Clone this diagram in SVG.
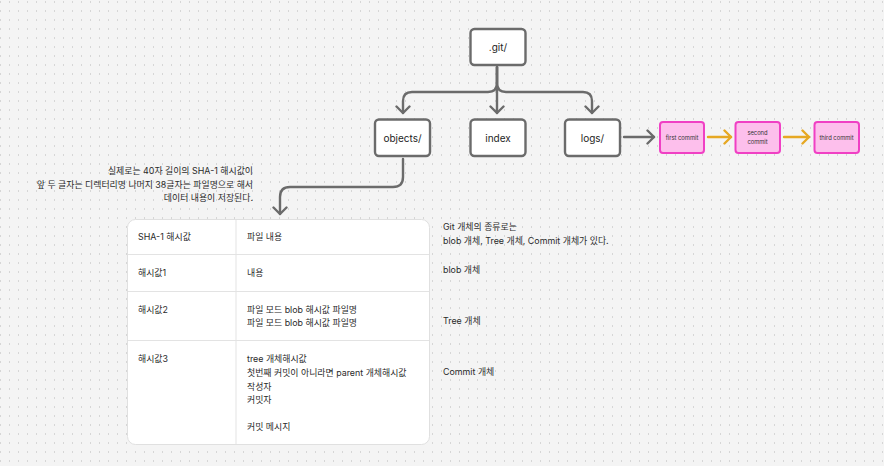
<svg xmlns="http://www.w3.org/2000/svg" width="884" height="466" viewBox="0 0 884 466">
<defs>
<pattern id="dots" x="0" y="1.5" width="9" height="9" patternUnits="userSpaceOnUse">
<rect x="0" y="0" width="1" height="1" fill="#b8b8b8"/>
</pattern>
<marker id="ah" viewBox="-8 -8 10 16" markerWidth="10" markerHeight="16" refX="0" refY="0" orient="auto" markerUnits="userSpaceOnUse">
<path d="M-6.5,-6.5 L0,0 L-6.5,6.5" fill="none" stroke="#6b6b6b" stroke-width="2.4" stroke-linecap="round" stroke-linejoin="round"/>
</marker>
<marker id="ahy" viewBox="-8 -8 10 16" markerWidth="10" markerHeight="16" refX="0" refY="0" orient="auto" markerUnits="userSpaceOnUse">
<path d="M-6.5,-6.5 L0,0 L-6.5,6.5" fill="none" stroke="#e6a823" stroke-width="2.4" stroke-linecap="round" stroke-linejoin="round"/>
</marker>
</defs>
<style>
.box{fill:#fff;stroke:#6b6b6b;stroke-width:2.4}
.cbox{fill:#fdbfec;stroke:#f040c4;stroke-width:2}
.lbl{font-family:Inter,"Noto Sans CJK KR",sans-serif;font-size:10px;fill:#1e1e1e;text-anchor:middle}
.clbl{font-family:Inter,"Noto Sans CJK KR",sans-serif;font-size:5.8px;fill:#333;text-anchor:middle}
.t{font-family:Inter,"Noto Sans CJK KR",sans-serif;font-size:8.9px;fill:#2a2a2a}
.c{fill:none;stroke:#6b6b6b;stroke-width:2.4;stroke-linecap:round;stroke-linejoin:round}
.cy{fill:none;stroke:#e6a823;stroke-width:2.4;stroke-linecap:round}
.grid{stroke:#e3e3e3;stroke-width:1;fill:none}
</style>
<rect width="884" height="466" fill="#f4f4f4"/>
<rect width="884" height="466" fill="url(#dots)"/>

<g id="connectors">
<path class="c" d="M497,67 V83 Q497,92 488,92 H412 Q403,92 403,101 V113" marker-end="url(#ah)"/>
<path class="c" d="M497,67 V113" marker-end="url(#ah)"/>
<path class="c" d="M497,67 V83 Q497,92 506,92 H583 Q592,92 592,101 V113" marker-end="url(#ah)"/>
<path class="c" d="M403,159 V177 Q403,187 393,187 H290 Q280,187 280,197 V214" marker-end="url(#ah)"/>
<path class="c" d="M624,137 H654" marker-end="url(#ah)"/>
<path class="cy" d="M708,137 H731" marker-end="url(#ahy)"/>
<path class="cy" d="M784,137 H809" marker-end="url(#ahy)"/>
</g>

<g id="git"><rect class="box" x="470.5" y="29" width="55" height="36" rx="4"/><text class="lbl" x="498" y="51">.git/</text></g>
<g id="objects"><rect class="box" x="375" y="119.5" width="55" height="36.5" rx="4"/><text class="lbl" x="402.5" y="141.5">objects/</text></g>
<g id="index"><rect class="box" x="470.5" y="119.5" width="55" height="36.5" rx="4"/><text class="lbl" x="498" y="141.5">index</text></g>
<g id="logs"><rect class="box" x="565" y="119.5" width="55" height="36.5" rx="4"/><text class="lbl" x="592.5" y="141.5">logs/</text></g>

<g id="first-commit"><rect class="cbox" x="660" y="122" width="44" height="31" rx="3"/><text class="clbl" x="682" y="139.5">first commit</text></g>
<g id="second-commit"><rect class="cbox" x="735.5" y="122" width="44.5" height="31" rx="3"/><text class="clbl" x="757.5" y="135">second</text><text class="clbl" x="757.5" y="143.5">commit</text></g>
<g id="third-commit"><rect class="cbox" x="814.5" y="122" width="44.5" height="31" rx="3"/><text class="clbl" x="836.5" y="139.5">third commit</text></g>

<g id="note">
<text class="t" x="253" y="174" text-anchor="end">실제로는 40자 길이의 SHA-1 해시값이</text>
<text class="t" x="253" y="187.5" text-anchor="end">앞 두 글자는 디렉터리명 나머지 38글자는 파일명으로 해서</text>
<text class="t" x="253" y="201" text-anchor="end">데이터 내용이 저장된다.</text>
</g>

<g id="table">
<rect x="127.5" y="219.5" width="302" height="225" rx="8" fill="#fff" stroke="#e0e0e0" stroke-width="1"/>
<path class="grid" d="M236,220 V444 M128,254.5 H429 M128,291.5 H429 M128,340.5 H429"/>
<text class="t" x="138" y="240">SHA-1 해시값</text>
<text class="t" x="247" y="240">파일 내용</text>
<text class="t" x="138" y="276">해시값1</text>
<text class="t" x="247" y="276">내용</text>
<text class="t" x="138" y="313">해시값2</text>
<text class="t" x="247" y="313">파일 모드 blob 해시값 파일명</text>
<text class="t" x="247" y="326">파일 모드 blob 해시값 파일명</text>
<text class="t" x="138" y="362">해시값3</text>
<text class="t" x="247" y="362">tree 개체해시값</text>
<text class="t" x="247" y="376">첫번째 커밋이 아니라면 parent 개체해시값</text>
<text class="t" x="247" y="390">작성자</text>
<text class="t" x="247" y="403">커밋자</text>
<text class="t" x="247" y="430">커밋 메시지</text>
</g>

<g id="types">
<text class="t" x="443" y="230">Git 개체의 종류로는</text>
<text class="t" x="443" y="243.5">blob 개체, Tree 개체, Commit 개체가 있다.</text>
<text class="t" x="443" y="273">blob 개체</text>
<text class="t" x="443" y="324">Tree 개체</text>
<text class="t" x="443" y="375">Commit 개체</text>
</g>
</svg>
